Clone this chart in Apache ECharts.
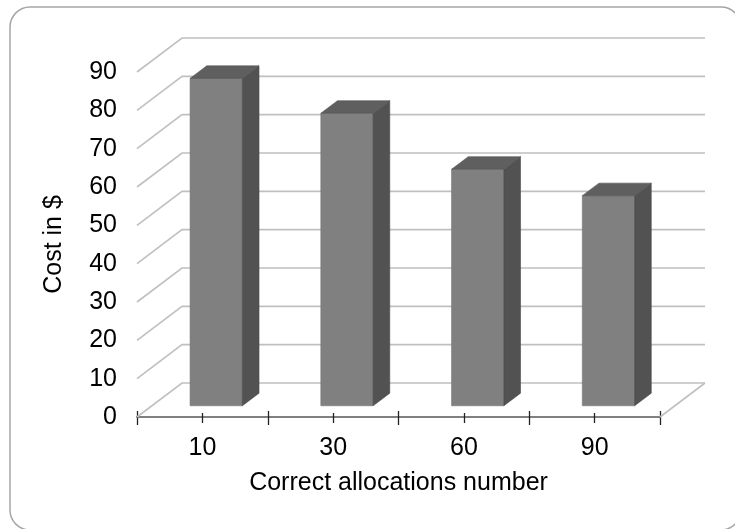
<!DOCTYPE html>
<html>
<head>
<meta charset="utf-8">
<script src="https://cdn.jsdelivr.net/npm/echarts@6/dist/echarts.min.js"></script>
<style>
html,body{margin:0;padding:0;background:#fff;}
#chart{width:735px;height:529px;}
</style>
</head>
<body>
<div id="chart"></div>
<script>
// ---- data ----
const categories = ['10', '30', '60', '90'];
const costValues = [85.4, 76.3, 61.7, 54.8];
const yTicks = [0, 10, 20, 30, 40, 50, 60, 70, 80, 90];
const xTitle = 'Correct allocations number';
const yTitle = 'Cost in $';

// ---- 3D projection constants (depth vector of the floor) ----
const DX = 45, DY = -34;
const FONT = 'Liberation Sans, Arial, sans-serif';

function renderGrid(params, api) {
  const v = api.value(1);
  const p = api.coord([0, v]);
  const bw = api.size([1, 0])[0];
  const xl = p[0] - bw / 2;
  const xr = xl + categories.length * bw;
  const st = { stroke: '#c0c0c0', lineWidth: 1.6, fill: null };
  const children = [{
    type: 'polyline',
    shape: { points: [[xl, p[1]], [xl + DX, p[1] + DY], [xr + DX, p[1] + DY]] },
    style: st
  }];
  if (v === yTicks[0]) {
    children.push({ type: 'line', shape: { x1: xr, y1: p[1], x2: xr + DX, y2: p[1] + DY }, style: st });
  }
  return { type: 'group', children: children };
}

function renderBar(params, api) {
  const i = api.value(0), v = api.value(1);
  const base = api.coord([i, 0]);
  const top = api.coord([i, v]);
  const bw = api.size([1, 0])[0];
  const f1 = 0.33, f2 = 0.70, w = bw * 0.4;
  const x0 = base[0] - w / 2 + f1 * DX - 1, x1 = x0 + w;
  const yb = base[1] + f1 * DY, yt = top[1] + f1 * DY;
  const ddx = (f2 - f1) * DX, ddy = (f2 - f1) * DY;
  return {
    type: 'group',
    children: [
      { type: 'polygon', shape: { points: [[x0, yb], [x1, yb], [x1, yt], [x0, yt]] },
        style: { fill: '#808080', stroke: '#747474', lineWidth: 0.6 } },
      { type: 'polygon', shape: { points: [[x1, yb], [x1 + ddx, yb + ddy], [x1 + ddx, yt + ddy], [x1, yt]] },
        style: { fill: '#525252', stroke: '#4a4a4a', lineWidth: 0.6 } },
      { type: 'polygon', shape: { points: [[x0, yt], [x1, yt], [x1 + ddx, yt + ddy], [x0 + ddx, yt + ddy]] },
        style: { fill: '#5f5f5f', stroke: '#565656', lineWidth: 0.6 } }
    ]
  };
}

const chart = echarts.init(document.getElementById('chart'), null, { renderer: 'canvas' });

const tickAxis = (inside, len, align) => ({
  type: 'category',
  data: categories,
  position: 'bottom',
  offset: 0,
  gridIndex: 0,
  axisLine: { show: false },
  axisLabel: { show: false },
  splitLine: { show: false },
  axisTick: { show: true, inside: inside, length: len, interval: 0, alignWithLabel: align,
    lineStyle: { color: '#222', width: 1.3 } }
});

chart.setOption({
  animation: false,
  backgroundColor: '#fff',
  textStyle: { fontFamily: FONT },
  graphic: [{
    type: 'rect',
    shape: { x: 10, y: 7, width: 731, height: 523, r: 20 },
    style: { fill: 'none', stroke: '#a6a6a6', lineWidth: 1.5 },
    silent: true,
    z: -10
  }],
  grid: { left: 137, top: 72, width: 523, height: 345, containLabel: false, outerBoundsMode: 'none' },
  xAxis: [
    {
      type: 'category',
      data: categories,
      position: 'bottom',
      boundaryGap: true,
      axisLine: { show: true, lineStyle: { color: '#808080', width: 2 } },
      axisTick: { show: true, interval: 0, length: 8, lineStyle: { color: '#222', width: 1.3 } },
      axisLabel: { fontSize: 25, color: '#000', margin: 19, fontFamily: FONT },
      splitLine: { show: false },
      name: xTitle,
      nameLocation: 'middle',
      nameGap: 54,
      nameTextStyle: { fontSize: 25, color: '#000', fontFamily: FONT }
    },
    tickAxis(true, 6, false),
    tickAxis(false, 6, true),
    tickAxis(true, 4, true)
  ],
  yAxis: {
    type: 'value',
    min: 0,
    max: 90,
    interval: 10,
    axisLine: { show: false },
    axisTick: { show: false },
    splitLine: { show: false },
    axisLabel: { fontSize: 25, color: '#000', margin: 20, fontFamily: FONT },
    name: yTitle,
    nameLocation: 'middle',
    nameGap: 70,
    nameTextStyle: { fontSize: 25, color: '#000', fontFamily: FONT }
  },
  series: [
    {
      type: 'custom',
      name: 'grid',
      xAxisIndex: 0,
      yAxisIndex: 0,
      clip: false,
      silent: true,
      renderItem: renderGrid,
      data: yTicks.map(v => [0, v]),
      z: 1
    },
    {
      type: 'custom',
      name: 'Cost',
      xAxisIndex: 0,
      yAxisIndex: 0,
      clip: false,
      renderItem: renderBar,
      data: costValues.map((v, i) => [i, v]),
      z: 2
    }
  ]
});
</script>
</body>
</html>
